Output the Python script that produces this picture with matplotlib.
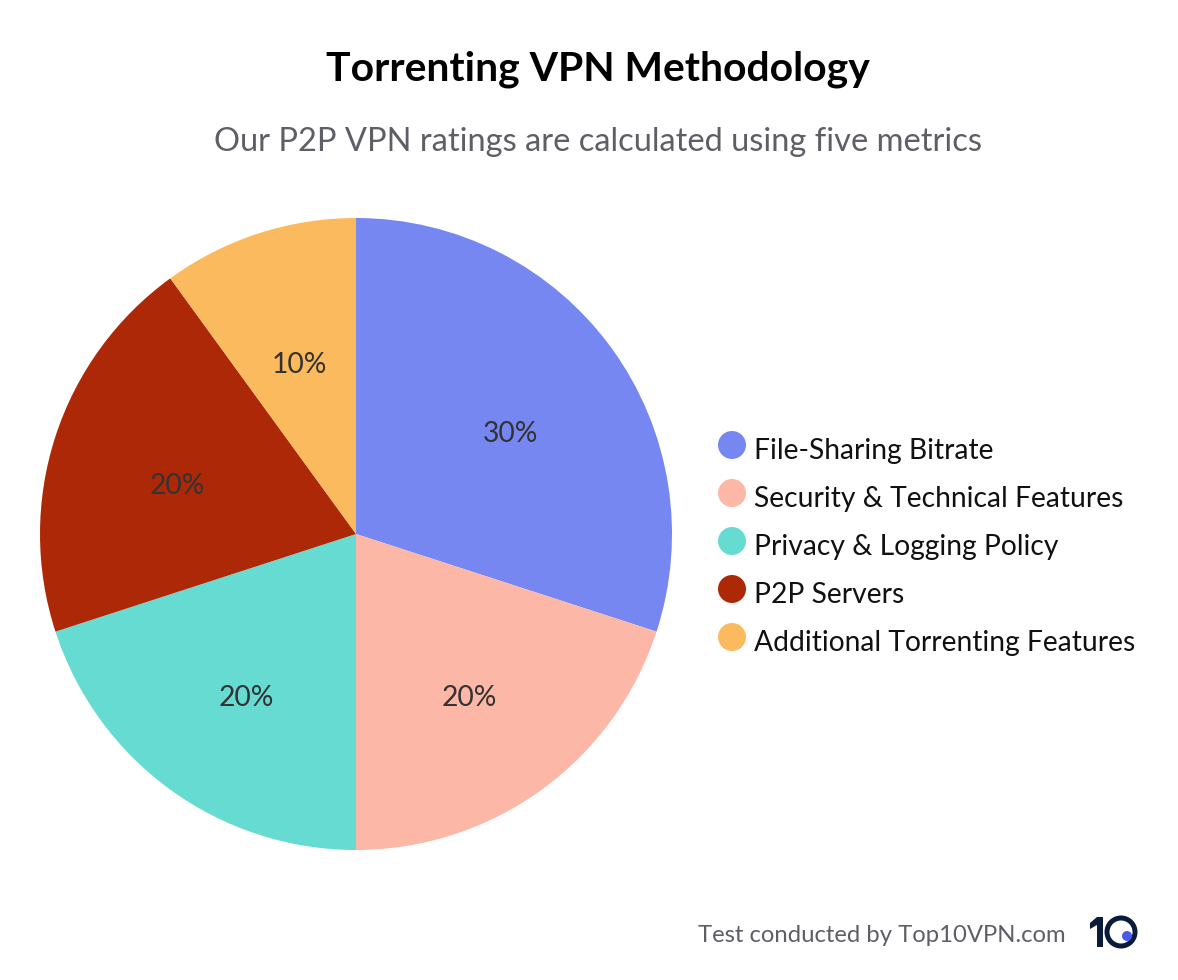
import matplotlib
matplotlib.use("Agg")
import matplotlib.pyplot as plt
from matplotlib.patches import Circle, Polygon

categories = ["File-Sharing Bitrate", "Security & Technical Features", "Privacy & Logging Policy",
              "P2P Servers", "Additional Torrenting Features"]
values = [30, 20, 20, 20, 10]
colors = ["#7687F2", "#FCB7A6", "#66DBD2", "#AD2806", "#FCBA5E"]

W, H = 1178, 980
plt.rcParams["font.family"] = ["Lato", "DejaVu Sans"]

fig = plt.figure(figsize=(W / 100, H / 100), dpi=100, facecolor="white")

# pie axes: centre 356,534 radius 316 in pixels
ax = fig.add_axes([(356 - 316) / W, 1 - (534 + 316) / H, 632 / W, 632 / H])
wedges, texts, autotexts = ax.pie(values, colors=colors, startangle=90, counterclock=False, radius=1,
                                  autopct="%d%%", pctdistance=0.6,
                                  wedgeprops={"linewidth": 0},
                                  textprops={"fontsize": 20.3, "color": "#333333"})
ax.set_xlim(-1, 1)
ax.set_ylim(-1, 1)

# labels sit a bit below the wedge centre in the original
for t in autotexts:
    x, y = t.get_position()
    t.set_position((x + 1.5 / 316, y - 11 / 316))

fig.text(598 / W, 1 - 69 / H, "Torrenting VPN Methodology", ha="center", va="center",
         fontsize=29.4, fontweight="bold", color="black")
fig.text(598 / W, 1 - 142 / H, "Our P2P VPN ratings are calculated using five metrics", ha="center", va="center",
         fontsize=23.5, color="#5E5E66")

# legend
over = fig.add_axes([0, 0, 1, 1])
over.set_xlim(0, W)
over.set_ylim(H, 0)
over.axis("off")
legend_y = [445, 493, 541, 589, 637]
for name, col, y in zip(categories, colors, legend_y):
    over.add_patch(Circle((732, y), 14, color=col, lw=0))
    over.text(754, y + 5.5, name, fontsize=20.35, color="#111111", va="center", ha="left")

# footer
over.text(1066, 935, "Test conducted by Top10VPN.com", fontsize=17.2, color="#5E5E66", va="center", ha="right")
over.add_patch(Polygon([(1090, 923), (1097, 917), (1103, 917), (1103, 947), (1097, 947), (1097, 925), (1090, 929)],
                       color="#0B1B3B", lw=0))
over.add_patch(Circle((1121, 932), 14, fill=False, ec="#0B1B3B", lw=3.6))
over.add_patch(Circle((1127, 936), 5, color="#4A5AF0", lw=0))

fig.savefig("out.png", dpi=100, facecolor="white")
